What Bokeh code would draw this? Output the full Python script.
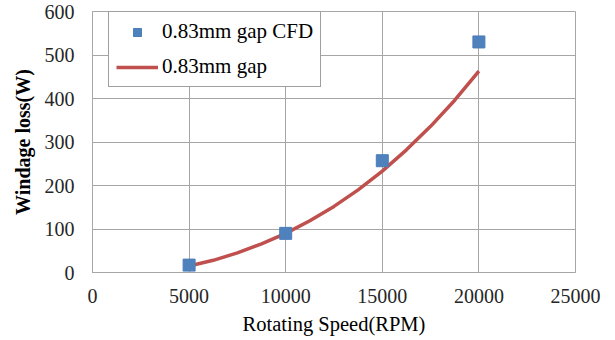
from bokeh.plotting import figure
from bokeh.models import Legend, LegendItem, Range1d, FixedTicker
from bokeh.embed import file_html
from bokeh.resources import INLINE

# CFD data points
cfd_speed = [5000, 10000, 15000, 20000]
cfd_loss = [17, 90, 257, 530]

# analytical curve
curve_speed = [5000, 6250, 7500, 8750, 10000, 11250, 12500, 13750, 15000,
               16250, 17500, 18750, 20000]
curve_loss = [15, 28, 45, 66, 90, 119, 152, 190, 233, 282, 336, 396, 463]

x_ticks = [0, 5000, 10000, 15000, 20000, 25000]
y_ticks = [0, 100, 200, 300, 400, 500, 600]

FONT = "Liberation Serif"
GRID = "#a6a6a6"

p = figure(width=615, height=340, output_backend="svg", toolbar_location=None,
           x_range=Range1d(0, 25000), y_range=Range1d(0, 600),
           min_border_left=92, min_border_right=40, min_border_top=11,
           min_border_bottom=68)

p.outline_line_color = GRID
p.outline_line_width = 1
p.background_fill_color = "white"
p.border_fill_color = "white"

for g in (p.xgrid, p.ygrid):
    g.grid_line_color = GRID
    g.grid_line_width = 1
p.xgrid.ticker = FixedTicker(ticks=x_ticks)
p.ygrid.ticker = FixedTicker(ticks=y_ticks)

for ax in (p.xaxis[0], p.yaxis[0]):
    ax.axis_line_color = GRID
    ax.major_tick_line_color = None
    ax.minor_tick_line_color = None
    ax.major_tick_out = 0
    ax.major_tick_in = 0
    ax.major_label_text_font = FONT
    ax.major_label_text_font_size = "20px"
    ax.major_label_text_color = "#262626"
    ax.axis_label_text_font = FONT
    ax.axis_label_text_font_size = "20.5px"
    ax.axis_label_text_color = "#000000"

p.xaxis[0].ticker = FixedTicker(ticks=x_ticks)
p.yaxis[0].ticker = FixedTicker(ticks=y_ticks)
p.xaxis[0].axis_label = "Rotating Speed(RPM)"
p.xaxis[0].axis_label_text_font_style = "normal"
p.xaxis[0].major_label_standoff = 16
p.xaxis[0].axis_label_standoff = 7
p.yaxis[0].axis_label = "Windage loss(W)"
p.yaxis[0].axis_label_text_font_style = "bold"
p.yaxis[0].axis_label_text_font_size = "20px"
p.yaxis[0].major_label_standoff = 18
p.yaxis[0].axis_label_standoff = 8

line = p.line(curve_speed, curve_loss, line_color="#C0504D", line_width=3.5)
pts = p.scatter(cfd_speed, cfd_loss, marker="square", size=12,
                fill_color="#4F81BD", line_color="#4A7EBB", line_width=1)

legend = Legend(items=[LegendItem(label="0.83mm gap CFD", renderers=[pts]),
                       LegendItem(label="0.83mm gap", renderers=[line])],
                location=(16, 185), orientation="vertical",
                border_line_color="#404040", border_line_width=1,
                background_fill_color="white", background_fill_alpha=1,
                label_text_font=FONT, label_text_font_size="21px",
                label_text_color="#000000",
                glyph_width=42, glyph_height=20, label_height=20,
                label_standoff=4, spacing=10, padding=7, margin=0)
p.add_layout(legend, "center")

open("out.html", "w").write(file_html(p, INLINE))
